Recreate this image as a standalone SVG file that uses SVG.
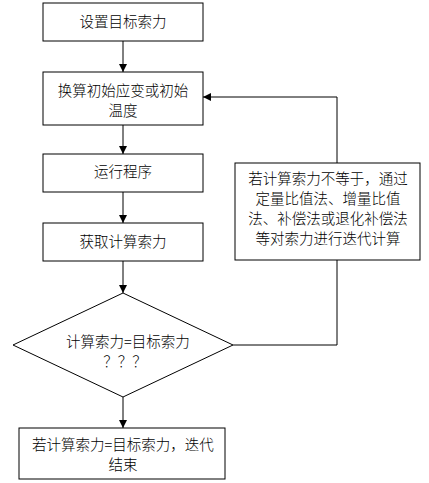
<svg xmlns="http://www.w3.org/2000/svg" width="429" height="483" viewBox="0 0 429 483">
<defs>
<marker id="arr" viewBox="0 0 10 10" refX="10" refY="5" markerWidth="8" markerHeight="8" markerUnits="userSpaceOnUse" orient="auto">
<path d="M0,0 L10,5 L0,10 Z" fill="#000"/>
</marker>
</defs>
<style>
.box{fill:#fff;stroke:#000;stroke-width:1}
.t{font-family:"Noto Sans CJK SC","Liberation Sans",sans-serif;font-size:14.5px;font-weight:300;fill:#000;text-anchor:middle}
.c{fill:none;stroke:#000;stroke-width:1}
</style>
<rect width="429" height="483" fill="#fff"/>
<g id="connectors">
<line class="c" x1="123" y1="41" x2="123" y2="72" marker-end="url(#arr)"/>
<line class="c" x1="123" y1="125" x2="123" y2="154" marker-end="url(#arr)"/>
<line class="c" x1="123" y1="192" x2="123" y2="223" marker-end="url(#arr)"/>
<line class="c" x1="123" y1="261" x2="123" y2="293" marker-end="url(#arr)"/>
<line class="c" x1="123" y1="397" x2="123" y2="428" marker-end="url(#arr)"/>
<polyline class="c" points="233,345 337,345 337,260"/>
<polyline class="c" points="337,163 337,97 203,97" marker-end="url(#arr)"/>
</g>
<g id="n1">
<rect class="box" x="43" y="3" width="160" height="38"/>
<text class="t" x="123" y="27">设置目标索力</text>
</g>
<g id="n2">
<rect class="box" x="43" y="72" width="160" height="53"/>
<text class="t" x="123" y="96">换算初始应变或初始</text>
<text class="t" x="123" y="116">温度</text>
</g>
<g id="n3">
<rect class="box" x="43" y="154" width="160" height="38"/>
<text class="t" x="123" y="177">运行程序</text>
</g>
<g id="n4">
<rect class="box" x="43" y="223" width="160" height="38"/>
<text class="t" x="123" y="247">获取计算索力</text>
</g>
<g id="n5">
<polygon class="box" points="123,293 233,345 123,397 13,345"/>
<text class="t" x="128" y="347">计算索力=目标索力</text>
<text class="t" x="125" y="367">？？？</text>
</g>
<g id="n6">
<rect class="box" x="19" y="428" width="206" height="51"/>
<text class="t" x="123" y="450">若计算索力=目标索力，迭代</text>
<text class="t" x="123" y="470">结束</text>
</g>
<g id="n7">
<rect class="box" x="235" y="163" width="185" height="97"/>
<text class="t" x="328" y="184">若计算索力不等于，通过</text>
<text class="t" x="328" y="204">定量比值法、增量比值</text>
<text class="t" x="328" y="224">法、补偿法或退化补偿法</text>
<text class="t" x="328" y="244">等对索力进行迭代计算</text>
</g>
</svg>
